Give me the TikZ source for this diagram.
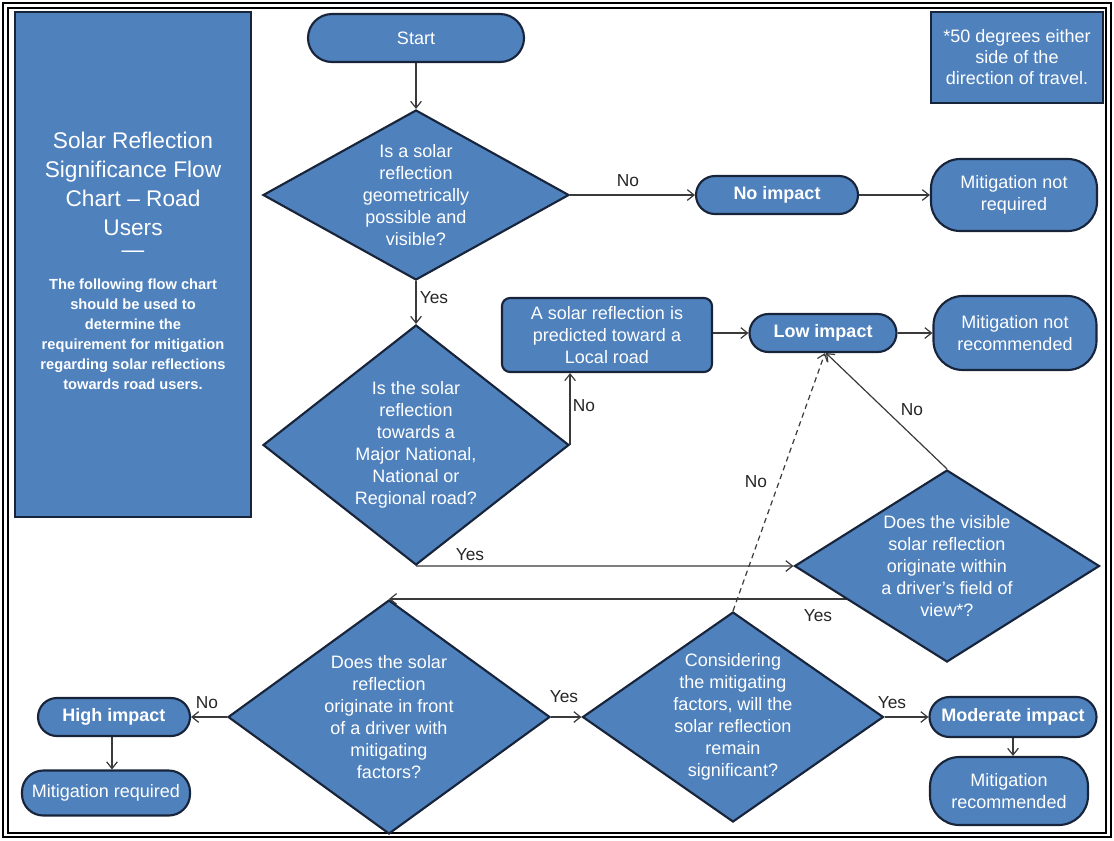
\documentclass[tikz,border=0pt]{standalone}
\usepackage{fontspec}
\setmainfont{Liberation Sans}
\usetikzlibrary{shapes.geometric,arrows.meta,backgrounds,calc}
\definecolor{boxblue}{HTML}{4F81BD}
\definecolor{boxline}{HTML}{18243A}
\definecolor{conn}{HTML}{3A3A3A}
\begin{document}
\begin{tikzpicture}[x=0.75pt,y=-0.75pt,
  box/.style={draw=boxline, line width=1.6pt, fill=boxblue, text=white, align=center, inner sep=0pt,
    font=\fontsize{13.5}{16.5}\selectfont},
  term/.style={box, rounded corners=#1},
  dia/.style={draw=boxline, line width=1.6pt, fill=boxblue, shape=diamond, inner sep=0pt},
  qtext/.style={text=white, align=center, inner sep=0pt, font=\fontsize{13.5}{16.5}\selectfont},
  arr/.style={draw=conn, line width=0.9pt, -{Straight Barb[length=5pt,width=8pt]}},
  lbl/.style={text=black!85, inner sep=1pt, font=\fontsize{13}{15}\selectfont}
]
\useasboundingbox (0,0) rectangle (1114,840);
% frame
\draw[line width=2pt] (3,3) rectangle (1111,837);
\draw[line width=0.8pt] (8,8) rectangle (1106,833);

% title box
\node[box, minimum width=177pt, minimum height=378.75pt] (title) at (133,264.5) {};
\node[text=white, align=center, inner sep=0pt, font=\fontsize{17}{21.75}\selectfont] (titlet) at (133,184)
  {Solar Reflection\\Significance Flow\\Chart -- Road\\Users};
\node[text=white, inner sep=0pt, font=\fontsize{17}{20}\selectfont] (dash) at (133,254) {---};
\node[text=white, align=center, inner sep=0pt, font=\fontsize{11}{15}\selectfont\bfseries] (subt) at (133,334)
  {The following flow chart\\should be used to\\determine the\\requirement for mitigation\\regarding solar reflections\\towards road users.};

% note box
\node[box, minimum width=129pt, minimum height=68.25pt, font=\fontsize{13.5}{15.75}\selectfont] (note) at (1017,57.5)
  {*50 degrees either\\side of the\\direction of travel.};

% nodes
\node[term=18pt, minimum width=162pt, minimum height=36pt] (start) at (416,38) {Start};

\node[dia, minimum width=229.5pt, minimum height=127.5pt] (D1) at (416,195) {};
\node[qtext] (D1t) at (D1) {Is a solar\\reflection\\geometrically\\possible and\\visible?};

\node[term=14.25pt, minimum width=121.5pt, minimum height=28.5pt, font=\fontsize{13.5}{16.5}\selectfont\bfseries] (noimp) at (777,195) {No impact};
\node[term=22pt, minimum width=124.5pt, minimum height=54pt] (mnr) at (1014,195) {Mitigation not\\required};

\node[dia, minimum width=229.5pt, minimum height=180pt] (D2) at (416,445) {};
\node[qtext] (D2t) at (D2) {Is the solar\\reflection\\towards a\\Major National,\\National or\\Regional road?};

\node[term=6pt, minimum width=157.5pt, minimum height=55.5pt] (local) at (607,335) {A solar reflection is\\predicted toward a\\Local road};

\node[term=14.25pt, minimum width=110.25pt, minimum height=28.5pt, font=\fontsize{13.5}{16.5}\selectfont\bfseries] (low) at (823,333) {Low impact};
\node[term=22pt, minimum width=122.25pt, minimum height=55.5pt] (mnrec) at (1015,333) {Mitigation not\\recommended};

\node[dia, minimum width=228.75pt, minimum height=144pt] (D4) at (947,566) {};
\node[qtext] (D4t) at (D4) {Does the visible\\solar reflection\\originate within\\a driver's field of\\view*?};

\node[dia, minimum width=241.5pt, minimum height=175.5pt] (D5) at (389,717) {};
\node[qtext] (D5t) at (D5) {Does the solar\\reflection\\originate in front\\of a driver with\\mitigating\\factors?};

\node[term=14.25pt, minimum width=114pt, minimum height=28.5pt, font=\fontsize{13.5}{16.5}\selectfont\bfseries] (high) at (114,717) {High impact};
\node[term=16pt, minimum width=126pt, minimum height=33.75pt] (mreq) at (106,793) {Mitigation required};

\node[dia, minimum width=225.75pt, minimum height=157.5pt] (D6) at (733,717) {};
\node[qtext] (D6t) at (D6) {Considering\\the mitigating\\factors, will the\\solar reflection\\remain\\significant?};

\node[term=15pt, minimum width=125.25pt, minimum height=30pt, font=\fontsize{13.5}{16.5}\selectfont\bfseries] (mod) at (1013,717) {Moderate impact};
\node[term=22pt, minimum width=118.5pt, minimum height=51pt] (mrec) at (1009,791) {Mitigation\\recommended};

% connectors
\begin{scope}[on background layer]
\draw[arr] (start.south) -- (D1.north);
\draw[arr] (D1.east) -- (noimp.west);
\node[lbl] (lno1) at (628,181) {No};
\draw[arr] (noimp.east) -- (mnr.west);
\draw[arr] (D1.south) -- (D2.north);
\node[lbl] (lyes1) at (434,298) {Yes};
\draw[arr] (D2.east) -- (D2.east |- local.south);
\node[lbl] (lno2) at (584,406) {No};
\draw[arr] (local.east |- low.west) -- (low.west);
\draw[arr] (low.east) -- (mnrec.west);
\draw[arr] (D2.south) -- (D4.west);
\node[lbl] (lyes2) at (470,555) {Yes};
\draw[arr] (D4.north) -- ($(low.south)+(3,0)$);
\node[lbl] (lno3) at (912,410) {No};
\draw[arr, dash pattern=on 4pt off 3pt] (D6.north) -- ($(low.south)+(2,0)$);
\node[lbl] (lno4) at (756,482) {No};
\draw[arr] (D4.center |- D5.north) -- (D5.north);
\node[lbl] (lyes3) at (818,616) {Yes};
\draw[arr] (D5.west) -- (high.east);
\node[lbl] (lno5) at (207,703) {No};
\draw[arr] (high.south -| 112,0) -- (mreq.north -| 112,0);
\draw[arr] (D5.east) -- (D6.west);
\node[lbl] (lyes4) at (564,697) {Yes};
\draw[arr] (D6.east) -- (mod.west);
\node[lbl] (lyes5) at (892,703) {Yes};
\draw[arr] (mod.south) -- (mod.south |- mrec.north);
\end{scope}
\end{tikzpicture}
\end{document}
